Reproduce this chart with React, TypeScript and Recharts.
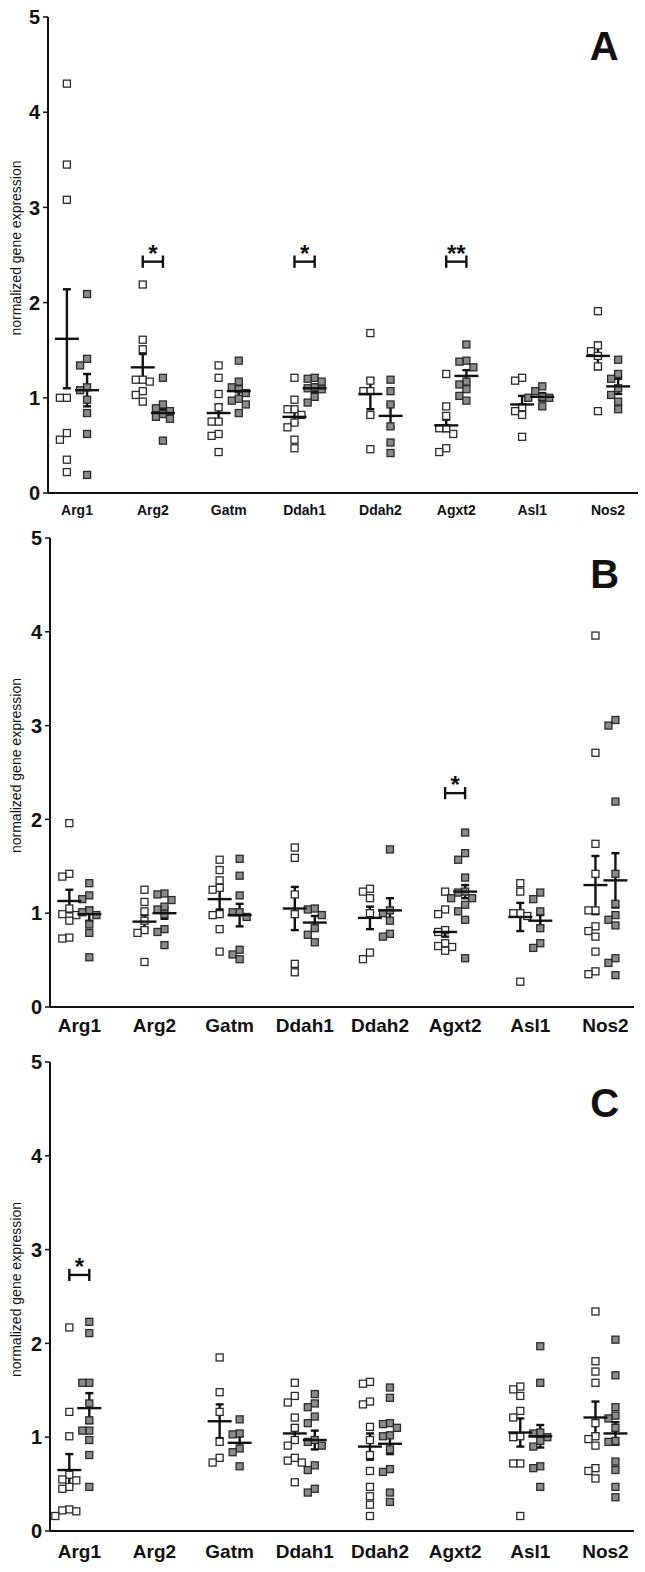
import React from 'react'
import { ScatterChart, Scatter, XAxis, YAxis, ErrorBar, ReferenceLine } from 'recharts'

const genes = ['Arg1', 'Arg2', 'Gatm', 'Ddah1', 'Ddah2', 'Agxt2', 'Asl1', 'Nos2']

// panel A
const aOpen = [
  [4.30, 3.45, 3.08, 1.00, 1.00, 0.63, 0.56, 0.35, 0.22],
  [2.19, 1.61, 1.51, 1.19, 1.17, 1.19, 1.07, 1.03, 0.96],
  [1.34, 1.21, 1.04, 0.90, 0.75, 0.75, 0.62, 0.60, 0.43],
  [1.21, 0.98, 0.88, 0.88, 0.82, 0.74, 0.69, 0.56, 0.47],
  [1.68, 1.18, 1.07, 1.07, 0.82, 0.46],
  [1.25, 0.91, 0.81, 0.68, 0.68, 0.62, 0.47, 0.43],
  [1.21, 1.18, 0.90, 0.86, 0.82, 0.59],
  [1.91, 1.55, 1.49, 1.44, 1.33, 0.86],
]
const aFilled = [
  [2.09, 1.41, 1.34, 1.11, 1.08, 0.98, 0.84, 0.62, 0.19],
  [1.21, 0.93, 0.89, 0.86, 0.83, 0.80, 0.78, 0.55],
  [1.39, 1.17, 1.11, 1.09, 1.05, 0.99, 0.97, 0.93, 0.84],
  [1.21, 1.20, 1.17, 1.11, 1.10, 1.09, 1.01, 0.95],
  [1.19, 1.07, 0.93, 0.70, 0.53, 0.42],
  [1.56, 1.39, 1.38, 1.32, 1.17, 1.14, 1.09, 1.02, 0.97],
  [1.12, 1.07, 1.01, 1.00, 1.00, 0.91],
  [1.40, 1.25, 1.20, 1.10, 1.03, 0.96, 0.88],
]
const aOpenMean = [1.62, 1.32, 0.84, 0.80, 1.04, 0.71, 0.93, 1.44]
const aOpenSem = [0.52, 0.14, 0.09, 0.07, 0.16, 0.06, 0.09, 0.14]
const aFilledMean = [1.08, 0.84, 1.07, 1.10, 0.81, 1.23, 1.01, 1.12]
const aFilledSem = [0.17, 0.04, 0.06, 0.04, 0.12, 0.06, 0.04, 0.08]

// panel B
const bOpen = [
  [1.96, 1.42, 1.39, 1.05, 0.99, 0.98, 0.92, 0.74, 0.73],
  [1.25, 1.12, 1.02, 0.92, 0.82, 0.79, 0.48],
  [1.57, 1.46, 1.35, 1.27, 1.25, 0.99, 0.98, 0.83, 0.59],
  [1.70, 1.59, 1.20, 0.99, 0.46, 0.37],
  [1.26, 1.23, 1.16, 1.00, 0.58, 0.51],
  [1.23, 1.04, 0.99, 0.82, 0.80, 0.68, 0.65, 0.64, 0.60],
  [1.32, 1.23, 1.00, 1.00, 0.97, 0.27],
  [3.96, 2.71, 1.74, 1.42, 1.03, 1.03, 0.86, 0.81, 0.75, 0.59, 0.38, 0.35],
]
const bFilled = [
  [1.32, 1.19, 1.15, 1.03, 1.01, 0.98, 0.88, 0.79, 0.53],
  [1.21, 1.20, 1.14, 1.07, 1.04, 0.99, 0.83, 0.80, 0.66],
  [1.58, 1.40, 1.19, 1.01, 1.01, 0.96, 0.61, 0.56, 0.51],
  [1.05, 1.04, 0.98, 0.84, 0.77, 0.69],
  [1.68, 1.03, 1.00, 0.92, 0.78, 0.75],
  [1.86, 1.64, 1.57, 1.38, 1.23, 1.22, 1.16, 1.16, 1.09, 1.02, 0.93, 0.52],
  [1.22, 1.15, 1.02, 0.84, 0.68, 0.63],
  [3.06, 3.00, 2.19, 1.42, 1.10, 0.98, 0.93, 0.87, 0.52, 0.47, 0.34],
]
const bOpenMean = [1.13, 0.91, 1.15, 1.05, 0.95, 0.80, 0.96, 1.30]
const bOpenSem = [0.12, 0.07, 0.11, 0.23, 0.12, 0.05, 0.15, 0.31]
const bFilledMean = [0.99, 1.00, 0.98, 0.90, 1.03, 1.23, 0.92, 1.35]
const bFilledSem = [0.07, 0.06, 0.12, 0.07, 0.13, 0.07, 0.06, 0.29]

// panel C (no Arg2 / Agxt2 data)
const cOpen = [
  [2.17, 1.27, 1.01, 0.60, 0.55, 0.54, 0.47, 0.45, 0.23, 0.22, 0.21, 0.16],
  [],
  [1.85, 1.48, 1.27, 0.95, 0.78, 0.73],
  [1.58, 1.44, 1.37, 1.21, 1.10, 0.97, 0.91, 0.78, 0.75, 0.73, 0.52],
  [1.59, 1.57, 1.38, 1.35, 1.11, 0.97, 0.81, 0.64, 0.47, 0.37, 0.28, 0.16],
  [],
  [1.54, 1.51, 1.44, 1.28, 1.21, 1.01, 1.00, 0.72, 0.72, 0.16],
  [2.34, 1.81, 1.70, 1.58, 1.15, 1.01, 0.98, 0.91, 0.67, 0.64, 0.56],
]
const cFilled = [
  [2.23, 2.11, 1.58, 1.58, 1.36, 1.18, 1.07, 1.07, 0.97, 0.81, 0.47],
  [],
  [1.19, 1.04, 1.03, 0.88, 0.84, 0.69],
  [1.46, 1.36, 1.32, 1.22, 1.15, 0.97, 0.95, 0.91, 0.70, 0.65, 0.45, 0.41],
  [1.53, 1.42, 1.15, 1.14, 1.10, 1.02, 1.01, 0.87, 0.66, 0.63, 0.41, 0.31],
  [],
  [1.97, 1.58, 1.05, 1.04, 1.00, 0.96, 0.90, 0.69, 0.67, 0.47],
  [2.04, 1.66, 1.32, 1.23, 1.20, 1.10, 0.96, 0.95, 0.74, 0.65, 0.47, 0.36],
]
const cOpenMean = [0.65, null, 1.17, 1.04, 0.90, null, 1.05, 1.21]
const cOpenSem = [0.17, null, 0.18, 0.08, 0.14, null, 0.15, 0.17]
const cFilledMean = [1.31, null, 0.94, 0.97, 0.93, null, 1.01, 1.04]
const cFilledSem = [0.16, null, 0.07, 0.10, 0.11, null, 0.12, 0.12]

// significance: gene index, bracket height, label
const aSig = [{ g: 1, y: 2.43, t: '*' }, { g: 3, y: 2.43, t: '*' }, { g: 5, y: 2.43, t: '**' }]
const bSig = [{ g: 5, y: 2.28, t: '*' }]
const cSig = [{ g: 0, y: 2.73, t: '*' }]

const FONT = '"Liberation Sans", Arial, Helvetica, sans-serif'
const INK = '#111'
const OFF = 0.133

type Pt = { x: number; y: number; jx: number }

// spread overlapping points sideways (pixels), like a column scatter plot
function spread(values: number[], center: number): Pt[] {
  const placed: Pt[] = []
  const sorted = [...values].sort((a, b) => b - a)
  for (const v of sorted) {
    let jx = 0
    for (const c of [0, -7, 7, -14, 14]) {
      const hit = placed.some(p => Math.abs(p.y - v) < 0.078 && Math.abs(p.jx - c) < 7)
      if (!hit) { jx = c; break }
    }
    placed.push({ x: center, y: v, jx })
  }
  return placed
}

const SQ = 7
const OpenSq = (p: any) => (
  <rect x={p.cx + (p.payload?.jx ?? 0) - SQ / 2} y={p.cy - SQ / 2} width={SQ} height={SQ} fill="#fff" stroke="#2a2a2a" strokeWidth={1.3} />
)
const FillSq = (p: any) => (
  <rect x={p.cx + (p.payload?.jx ?? 0) - SQ / 2} y={p.cy - SQ / 2} width={SQ} height={SQ} fill="#8a8a8a" stroke="#2a2a2a" strokeWidth={1.3} />
)
const MeanLine = (p: any) => (
  <line x1={p.cx - 12} x2={p.cx + 12} y1={p.cy} y2={p.cy} stroke={INK} strokeWidth={2.4} />
)
const Star = (p: any) => (
  <text x={p.cx} y={p.cy} textAnchor="middle" fontSize={24} fontWeight={700} fontFamily={FONT} fill={INK}>{p.payload.t}</text>
)
const Letter = (p: any) => (
  <text x={p.cx} y={p.cy} dy="0.36em" textAnchor="middle" fontSize={40} fontWeight={700} fontFamily={FONT} fill={INK}>{p.payload.t}</text>
)

type PanelProps = {
  top: number; height: number; mTop: number; axisW: number; right: number; xH: number; plotH: number
  tickFs: number; tickGap: number; domain: [number, number]
  open: number[][]; filled: number[][]
  openMean: (number | null)[]; openSem: (number | null)[]
  filledMean: (number | null)[]; filledSem: (number | null)[]
  sig: { g: number; y: number; t: string }[]
  letter: { x: number; y: number; t: string }
}

function Panel(P: PanelProps) {
  const openPts = P.open.flatMap((vals, i) => spread(vals, i - OFF))
  const fillPts = P.filled.flatMap((vals, i) => spread(vals, i + OFF))
  const means = (m: (number | null)[], s: (number | null)[], d: number) =>
    m.map((v, i) => (v == null ? null : { x: i + d, y: v, err: s[i] })).filter(Boolean) as any[]
  const stars = P.sig.map(s => ({ x: s.g, y: s.y, t: s.t }))

  return (
    <div style={{ position: 'absolute', left: 0, top: P.top }}>
      <ScatterChart width={645} height={P.height} margin={{ top: P.mTop, right: P.right, left: 0, bottom: P.height - P.mTop - P.plotH - P.xH }}>
        <XAxis type="number" dataKey="x" domain={P.domain} ticks={[0, 1, 2, 3, 4, 5, 6, 7]} interval={0}
          tickFormatter={(v: number) => genes[v] ?? ''} height={P.xH} tickLine={false} tickSize={6} tickMargin={P.tickGap}
          axisLine={{ stroke: INK, strokeWidth: 2 }}
          tick={{ fontSize: P.tickFs, fontWeight: 700, fill: INK, fontFamily: FONT }} />
        <YAxis type="number" dataKey="y" domain={[0, 5]} ticks={[0, 1, 2, 3, 4, 5]} width={P.axisW}
          tickSize={5} tickMargin={3} axisLine={{ stroke: INK, strokeWidth: 2 }} tickLine={{ stroke: INK, strokeWidth: 1.5 }}
          tick={{ fontSize: 20, fontWeight: 700, fill: INK, fontFamily: FONT }}
          label={() => {
            const cx = 16, cy = P.mTop + P.plotH / 2 - 7
            return (
              <text x={cx} y={cy} dy="0.35em" textAnchor="middle" transform={`rotate(-90, ${cx}, ${cy})`}
                fontSize={14} fill={INK} fontFamily={FONT}>normalized gene expression</text>
            )
          }} />
        {P.sig.map((s, k) => (
          <ReferenceLine key={'h' + k} segment={[{ x: s.g - OFF, y: s.y }, { x: s.g + OFF, y: s.y }]} stroke={INK} strokeWidth={2.4} />
        ))}
        {P.sig.map((s, k) => (
          <ReferenceLine key={'l' + k} segment={[{ x: s.g - OFF, y: s.y - 0.065 }, { x: s.g - OFF, y: s.y + 0.065 }]} stroke={INK} strokeWidth={2.4} />
        ))}
        {P.sig.map((s, k) => (
          <ReferenceLine key={'r' + k} segment={[{ x: s.g + OFF, y: s.y - 0.065 }, { x: s.g + OFF, y: s.y + 0.065 }]} stroke={INK} strokeWidth={2.4} />
        ))}
        <Scatter data={openPts} shape={OpenSq} isAnimationActive={false} />
        <Scatter data={fillPts} shape={FillSq} isAnimationActive={false} />
        <Scatter data={means(P.openMean, P.openSem, -OFF)} shape={MeanLine} isAnimationActive={false}>
          <ErrorBar dataKey="err" direction="y" width={4} stroke={INK} strokeWidth={2.4} />
        </Scatter>
        <Scatter data={means(P.filledMean, P.filledSem, OFF)} shape={MeanLine} isAnimationActive={false}>
          <ErrorBar dataKey="err" direction="y" width={4} stroke={INK} strokeWidth={2.4} />
        </Scatter>
        <Scatter data={stars} shape={Star} isAnimationActive={false} />
        <Scatter data={[P.letter]} shape={Letter} isAnimationActive={false} />
      </ScatterChart>
    </div>
  )
}

export default function App() {
  return (
    <div style={{ position: 'relative', width: 645, height: 1572, background: '#fff', fontFamily: FONT }}>
      <style>{'body{margin:0;background:#fff}'}</style>
      <Panel top={0} height={530} mTop={17} plotH={476} axisW={48} right={7} xH={30} tickFs={14} tickGap={6}
        domain={[-0.382, 7.395]} open={aOpen} filled={aFilled}
        openMean={aOpenMean} openSem={aOpenSem} filledMean={aFilledMean} filledSem={aFilledSem}
        sig={aSig} letter={{ x: 6.95, y: 4.7, t: 'A' }} />
      <Panel top={515} height={525} mTop={23} plotH={469} axisW={50} right={11} xH={33} tickFs={19} tickGap={6}
        domain={[-0.39, 7.38]} open={bOpen} filled={bFilled}
        openMean={bOpenMean} openSem={bOpenSem} filledMean={bFilledMean} filledSem={bFilledSem}
        sig={bSig} letter={{ x: 6.99, y: 4.62, t: 'B' }} />
      <Panel top={1040} height={532} mTop={22} plotH={469} axisW={50} right={11} xH={41} tickFs={19} tickGap={7.5}
        domain={[-0.39, 7.38]} open={cOpen} filled={cFilled}
        openMean={cOpenMean} openSem={cOpenSem} filledMean={cFilledMean} filledSem={cFilledSem}
        sig={cSig} letter={{ x: 6.99, y: 4.57, t: 'C' }} />
    </div>
  )
}
